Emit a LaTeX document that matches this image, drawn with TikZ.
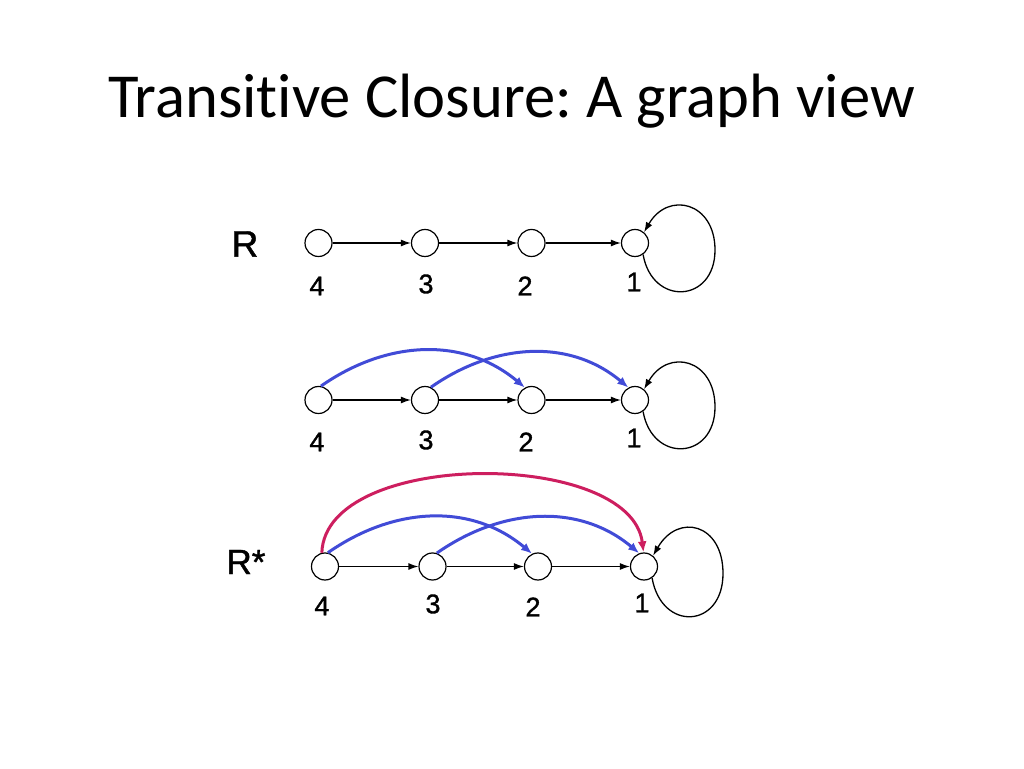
\documentclass[tikz,border=0pt]{standalone}
\usepackage{fontspec}
\setmainfont{Liberation Sans}
\newfontfamily\labelfont[FakeBold=1.2]{Liberation Sans}
\newfontfamily\titlefont[Ligatures=NoCommon]{Carlito}
\usetikzlibrary{arrows.meta,calc}
\definecolor{arcblue}{RGB}{65,75,215}
\definecolor{arcred}{RGB}{205,30,95}
\begin{document}
\begin{tikzpicture}[x=1pt,y=1pt,
  vtx/.style={circle,draw,line width=1.2pt,minimum size=27pt,inner sep=0pt,fill=white},
  edge/.style={line width=1.3pt,-{Latex[length=10pt,width=7pt]}},
  loopedge/.style={line width=1.3pt,-{Latex[length=10pt,width=7pt]}},
  barc/.style={line width=3pt,arcblue,-{Latex[length=11pt,width=9pt]}},
  rarc/.style={line width=3pt,arcred,-{Latex[length=11pt,width=9pt]}},
  num/.style={font=\labelfont\fontsize{27}{31}\selectfont},
  rel/.style={font=\labelfont\fontsize{37}{43}\selectfont}]
\useasboundingbox (0,0) rectangle (1024,768);
\node[anchor=base,font=\titlefont\frenchspacing\fontsize{62.6}{75}\selectfont] (title) at (511.5,650) {Transitive Closure: A graph view};

% row 1
\node[rel] (R1) at (245,524) {R};
\node[vtx] (a4) at (318.5,525) {};
\node[vtx] (a3) at (425,525) {};
\node[vtx] (a2) at (531.5,525) {};
\node[vtx] (a1) at (635,525) {};
\node[num] (la4) at (317,482) {4};
\node[num] (la3) at (426,484) {3};
\node[num] (la2) at (525,482) {2};
\node[num] (la1) at (634,486) {1};
\draw[edge] (a4) -- (a3);
\draw[edge] (a3) -- (a2);
\draw[edge] (a2) -- (a1);
\coordinate (al) at ($(a1)+(80,-7)$);
\draw[loopedge] (a1.-55) .. controls +(-80:53) and +(0,-53) .. (al) .. controls +(0,48) and +(60:48) .. (a1.50);

% row 2
\node[vtx] (b4) at (318.5,368) {};
\node[vtx] (b3) at (425,368) {};
\node[vtx] (b2) at (531.5,368) {};
\node[vtx] (b1) at (635,368) {};
\node[num] (lb4) at (317,326) {4};
\node[num] (lb3) at (426,328) {3};
\node[num] (lb2) at (526,326) {2};
\node[num] (lb1) at (634,330) {1};
\draw[edge] (b4) -- (b3);
\draw[edge] (b3) -- (b2);
\draw[edge] (b2) -- (b1);
\coordinate (bl) at ($(b1)+(80,-7)$);
\draw[loopedge] (b1.-55) .. controls +(-80:53) and +(0,-53) .. (bl) .. controls +(0,48) and +(60:48) .. (b1.50);
\draw[barc] (b4.80) to[out=35,in=140] (b2.118);
\draw[barc] (b3.65) to[out=35,in=140] (b1.118);

% row 3
\node[font=\labelfont\fontsize{35}{41}\selectfont] (R3) at (246,206) {R*};
\node[vtx] (c4) at (325,201.5) {};
\node[vtx] (c3) at (432.5,201.5) {};
\node[vtx] (c2) at (538,201.5) {};
\node[vtx] (c1) at (644,201.5) {};
\node[num] (lc4) at (322,162) {4};
\node[num] (lc3) at (433,164) {3};
\node[num] (lc2) at (533,161) {2};
\node[num] (lc1) at (642,165) {1};
\draw[edge] (c4) -- (c3);
\draw[edge] (c3) -- (c2);
\draw[edge] (c2) -- (c1);
\coordinate (cl) at ($(c1)+(79,-7)$);
\draw[loopedge] (c1.-55) .. controls +(-80:55) and +(0,-55) .. (cl) .. controls +(0,50) and +(60:50) .. (c1.50);
\draw[rarc] (c4.103) to[out=88,in=97,looseness=0.83] (c1.92);
\draw[barc] (c4.78) to[out=35,in=140] (c2.115);
\draw[barc] (c3.72) to[out=35,in=140] (c1.110);
\end{tikzpicture}
\end{document}
